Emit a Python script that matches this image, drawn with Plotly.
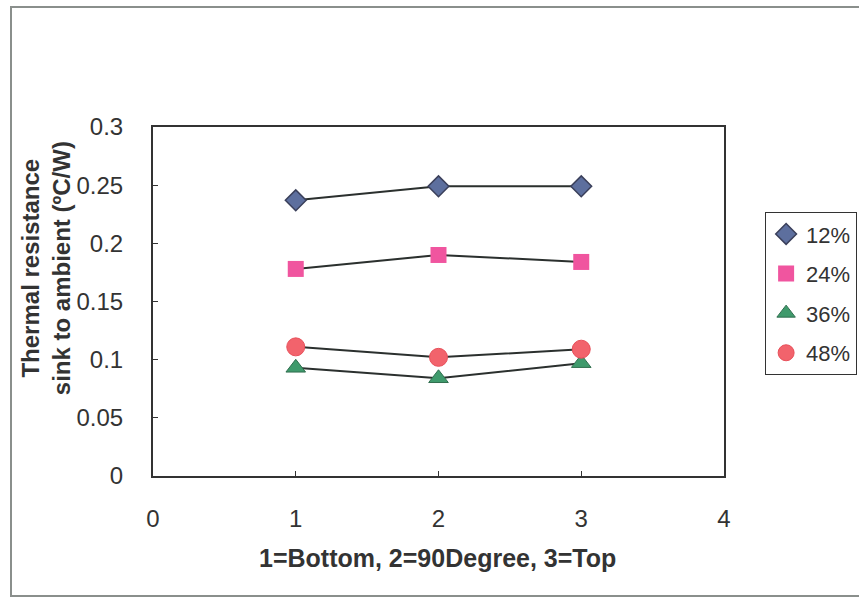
import plotly.graph_objects as go

# Mounting position (1=Bottom, 2=90 Degree, 3=Top)
positions = [1, 2, 3]

# Thermal resistance sink-to-ambient (°C/W) for each fill ratio
series_names = ["12%", "24%", "36%", "48%"]
r_12 = [0.237, 0.249, 0.249]
r_24 = [0.178, 0.190, 0.184]
r_36 = [0.093, 0.084, 0.097]
r_48 = [0.111, 0.102, 0.109]

x_ticks = [0, 1, 2, 3, 4]
y_ticks = [0, 0.05, 0.1, 0.15, 0.2, 0.25, 0.3]
y_tick_text = ["0", "0.05", "0.1", "0.15", "0.2", "0.25", "0.3"]

styles = [
    dict(symbol="diamond", color="#5d6f9e", line=dict(color="#3a3f5a", width=1.5), size=16),
    dict(symbol="square", color="#f0559f", line=dict(color="#f0559f", width=0), size=16),
    dict(symbol="triangle-up", color="#3f9a6c", line=dict(color="#2f6e4e", width=1), size=17),
    dict(symbol="circle", color="#f2636c", line=dict(color="#e8505a", width=1), size=18),
]

fig = go.Figure()

all_series = [r_12, r_24, r_36, r_48]

# connecting lines (not shown in legend)
for vals in all_series:
    fig.add_trace(go.Scatter(
        x=positions, y=vals, mode="lines",
        line=dict(color="#2b302e", width=2),
        showlegend=False, hoverinfo="skip",
    ))

# markers (legend entries show the symbol only)
for i, (name, vals, st) in enumerate(zip(series_names, all_series, styles)):
    fig.add_trace(go.Scatter(
        x=positions, y=vals, mode="markers", name=name,
        marker=st, legendgroup=f"g{i}",
    ))

FONT = "Liberation Sans, Arial, sans-serif"
axis_font = dict(family=FONT, size=24, color="#333333")

fig.update_layout(
    width=859, height=598,
    margin=dict(l=153, r=135, t=127, b=122, autoexpand=False),
    paper_bgcolor="white", plot_bgcolor="white",
    font=dict(family=FONT, color="#333333"),
    xaxis=dict(
        range=[0, 4], tickvals=x_ticks, ticktext=[str(v) for v in x_ticks],
        showgrid=False, zeroline=False,
        showline=True, linecolor="#333333", linewidth=2, mirror=True,
        ticks="inside", ticklen=5, tickcolor="#333333", tickwidth=1,
        tickfont=axis_font, ticklabelstandoff=20,
    ),
    yaxis=dict(
        range=[0, 0.3], tickvals=y_ticks, ticktext=y_tick_text,
        showgrid=False, zeroline=False,
        showline=True, linecolor="#333333", linewidth=2, mirror=True,
        ticks="inside", ticklen=5, tickcolor="#333333", tickwidth=1,
        tickfont=axis_font, ticklabelstandoff=23,
    ),
    legend=dict(
        x=1.072, y=0.756, xanchor="left", yanchor="top",
        bgcolor="white", bordercolor="#333333", borderwidth=1,
        font=dict(family=FONT, size=22, color="#333333"),
        traceorder="grouped", tracegroupgap=8, itemwidth=30,
    ),
    annotations=[
        dict(
            text="<b>1=Bottom, 2=90Degree, 3=Top</b>",
            xref="paper", yref="paper", x=0.499, y=-0.235,
            xanchor="center", yanchor="middle", showarrow=False,
            font=dict(size=25, color="#333333"),
        ),
        dict(
            text="<b>Thermal resistance<br>sink to ambient (ºC/W)</b>",
            xref="paper", yref="paper", x=-0.187, y=0.596,
            xanchor="center", yanchor="middle", showarrow=False, textangle=-90,
            font=dict(size=24, color="#333333"),
        ),
    ],
    shapes=[
        dict(type="rect", xref="paper", yref="paper",
             x0=(11 - 153) / 571, x1=(880 - 153) / 571,
             y0=(476 - 596) / 349, y1=(476 - 7) / 349,
             line=dict(color="#8a8f8c", width=2), fillcolor="rgba(0,0,0,0)", layer="below"),
    ],
)

fig.write_html("out.html")
